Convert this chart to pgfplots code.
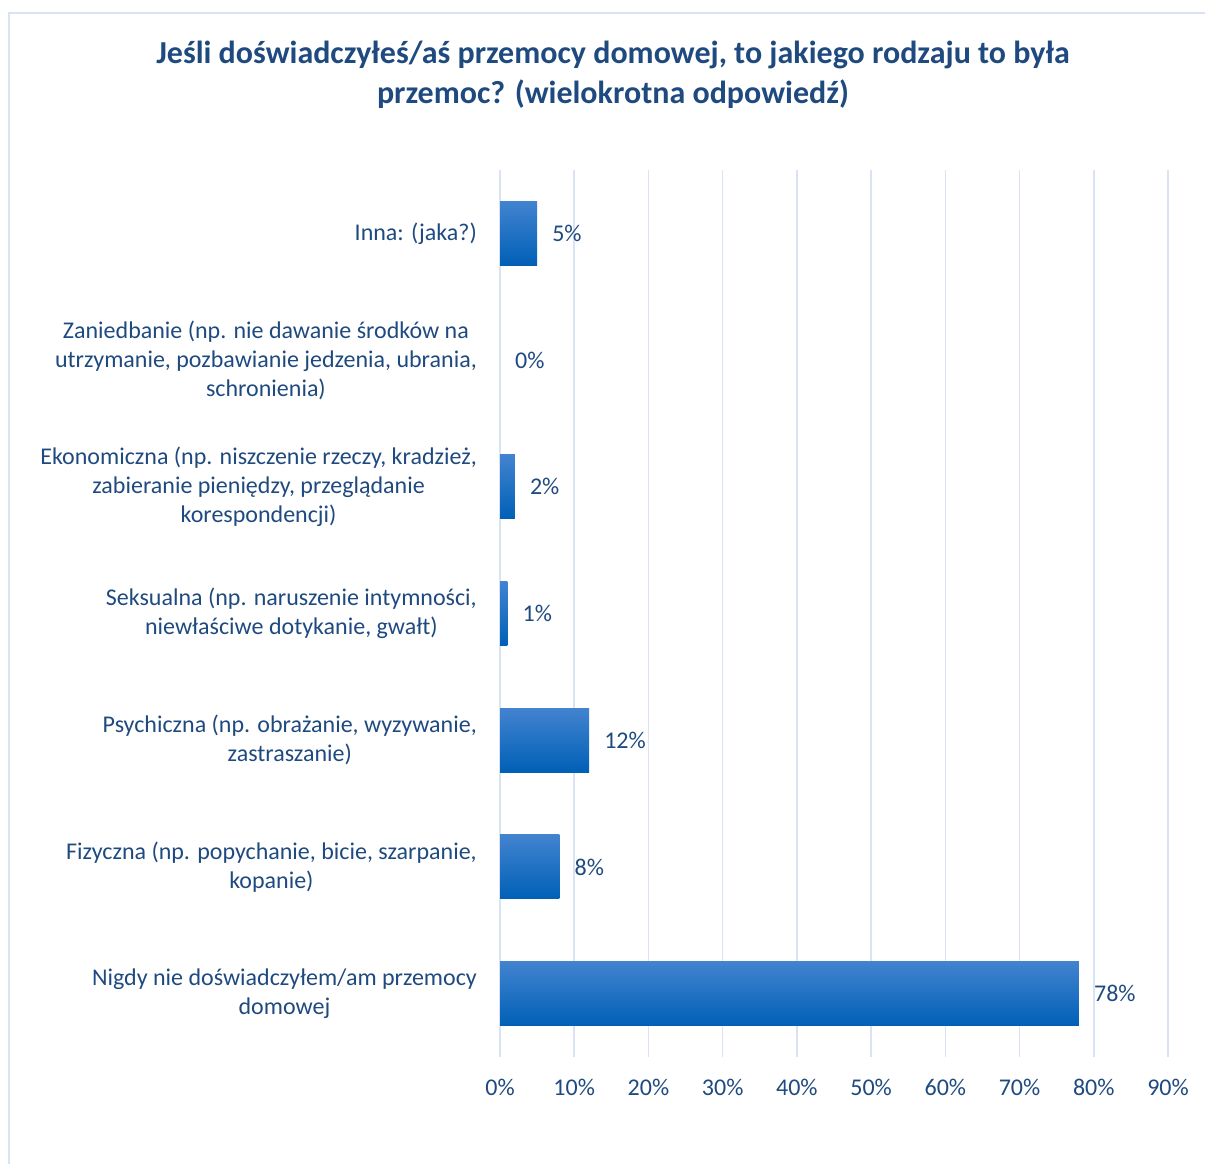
\documentclass[border=0pt]{standalone}
\usepackage{fontspec}
\setmainfont{Carlito}
\usepackage{pgfplots}
\pgfplotsset{compat=1.18}

\definecolor{txt}{HTML}{1F4A7F}
\definecolor{gridc}{HTML}{D9E3F3}
\definecolor{bartop}{HTML}{4283D0}
\definecolor{barmid}{HTML}{0070C6}
\definecolor{barbot}{HTML}{0060B6}

\pgfplotsset{
    onebar/.style={
        xbar,
        bar width=64bp,
        bar shift=0pt,
        draw=none,
        top color=bartop, middle color=barmid, bottom color=barbot,
        point meta=x,
        nodes near coords={\pgfmathprintnumber{\pgfplotspointmeta}\%},
        nodes near coords style={text=txt, font=\fontsize{24bp}{28bp}\selectfont,
            anchor=west, inner sep=0pt, xshift=15bp,
            /pgf/number format/assume math mode=true},
    },
}

\begin{document}
\begin{tikzpicture}[x=1bp,y=1bp]
    % frame (only top and left edges show)
    \draw[gridc, line width=2bp] (1205,1151) -- (9,1151) -- (9,0);

    \node[text=txt, font=\fontsize{32bp}{40bp}\selectfont\bfseries, align=center]
        at (613,1089) {Jeśli doświadczyłeś/aś przemocy domowej, to jakiego rodzaju to była\\przemoc? (wielokrotna odpowiedź)};

    \begin{axis}[%
            at={(500bp,107bp)}, anchor=south west,
            scale only axis,
            width=668bp,
            height=887bp,
            xmin=0, xmax=90,
            ymin=-0.5, ymax=6.5,
            xtick={0,10,...,90},
            ytick={0,...,6},
            yticklabels={
                {Nigdy nie doświadczyłem/am przemocy\\domowej},
                {Fizyczna (np. popychanie, bicie, szarpanie,\\kopanie)},
                {Psychiczna (np. obrażanie, wyzywanie,\\zastraszanie)},
                {Seksualna (np. naruszenie intymności,\\niewłaściwe dotykanie, gwałt)},
                {Ekonomiczna (np. niszczenie rzeczy, kradzież,\\zabieranie pieniędzy, przeglądanie\\korespondencji)},
                {Zaniedbanie (np. nie dawanie środków na\\utrzymanie, pozbawianie jedzenia, ubrania,\\schronienia)},
                {Inna: (jaka?)}},
            xticklabel={\pgfmathprintnumber{\tick}\%},
            /pgf/number format/assume math mode=true,
            axis line style={draw=none},
            major tick length=0pt,
            xmajorgrids,
            grid style={gridc, line width=1.5bp},
            xticklabel style={text=txt, font=\fontsize{24bp}{28bp}\selectfont, inner sep=0pt, yshift=-22bp},
            yticklabel style={text=txt, font=\fontsize{24bp}{29bp}\selectfont, align=center, anchor=east, inner sep=0pt, xshift=-23bp},
        ]
        % one plot per bar so each bar gets its own gradient
        \addplot[onebar] coordinates {(78,0)};
        \addplot[onebar] coordinates {(8,1)};
        \addplot[onebar] coordinates {(12,2)};
        \addplot[onebar] coordinates {(1,3)};
        \addplot[onebar] coordinates {(2,4)};
        \addplot[onebar] coordinates {(0,5)};
        \addplot[onebar] coordinates {(5,6)};
    \end{axis}

    \pgfresetboundingbox
    \path (0,0) rectangle (1205,1164);
\end{tikzpicture}
\end{document}
